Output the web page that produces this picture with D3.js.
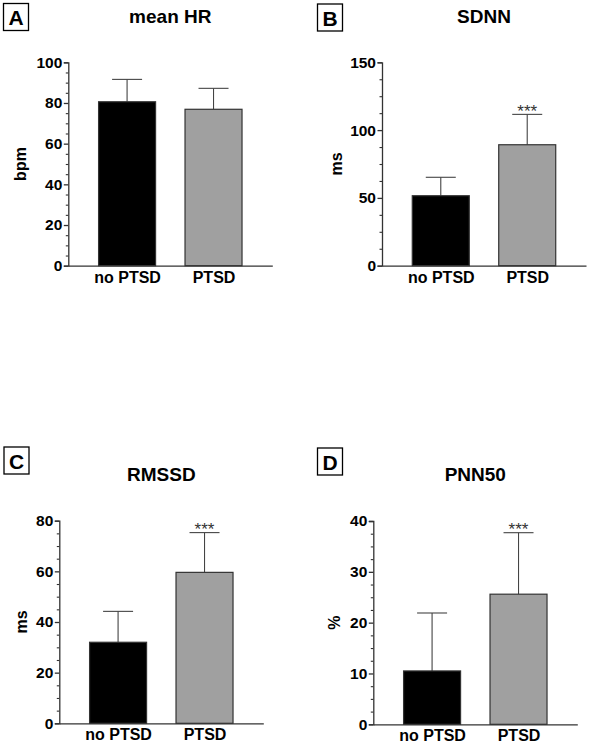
<!DOCTYPE html>
<html>
<head>
<meta charset="utf-8">
<script src="https://cdn.jsdelivr.net/npm/d3@7"></script>
<style>
html,body{margin:0;padding:0;background:#fff;}
svg{display:block;font-family:"Liberation Sans",Arial,sans-serif;}
</style>
</head>
<body>
<svg id="chart" width="592" height="747"></svg>
<script>
// ---- data ----
const categories = ["no PTSD", "PTSD"];
const panelLetters = ["A", "B", "C", "D"];
const panelTitles = ["mean HR", "SDNN", "RMSSD", "PNN50"];
const yLabels = ["bpm", "ms", "ms", "%"];
const meanHR = [80.6, 76.9];
const meanHRErr = [91.6, 87.2];
const sdnn = [51.6, 89.2];
const sdnnErr = [65.2, 111.6];
const rmssd = [32.0, 59.6];
const rmssdErr = [44.2, 75.3];
const pnn50 = [10.5, 25.6];
const pnn50Err = [21.9, 37.7];
const yMax = [100, 150, 80, 40];
const yMajorTicks = [[0,20,40,60,80,100],[0,50,100,150],[0,20,40,60,80],[0,10,20,30,40]];
const yMinorStep = [5, 12.5, 5, 2.5];
const significance = ["", "***", "***", "***"];

const values = [meanHR, sdnn, rmssd, pnn50];
const errs = [meanHRErr, sdnnErr, rmssdErr, pnn50Err];

// ---- layout ----
const layout = [
  {ax: 68.3, top: 62.3, bottom: 265.7, box: [3.5, 3.5], ylabX: 20, titleY: 23},
  {ax: 382,  top: 62.3, bottom: 265.7, box: [317.5, 4], ylabX: 336, titleY: 23},
  {ax: 59.3, top: 520.7, bottom: 723.3, box: [4, 447], ylabX: 21.5, titleY: 481},
  {ax: 373.3, top: 521, bottom: 724.3, box: [317.5, 448], ylabX: 334.5, titleY: 481}
];
const axisWidth = 204;
const barWidth = 57;
const fillColors = ["#000000", "#a0a0a0"];
const ink = "#333333";

const svg = d3.select("#chart");

layout.forEach((L, i) => {
  const g = svg.append("g");
  const x = d3.scalePoint().domain(categories).range([L.ax, L.ax + axisWidth]).padding(0.68);
  const y = d3.scaleLinear().domain([0, yMax[i]]).range([L.bottom, L.top]);

  // letter box
  g.append("rect").attr("x", L.box[0]).attr("y", L.box[1]).attr("width", 25).attr("height", 27)
    .attr("fill", "none").attr("stroke", "#000").attr("stroke-width", 1.3);
  g.append("text").attr("x", L.box[0] + 12.5).attr("y", L.box[1] + 21.5)
    .attr("text-anchor", "middle").attr("font-size", 21).attr("font-weight", "bold")
    .text(panelLetters[i]);

  // title
  g.append("text").attr("x", L.ax + 102).attr("y", L.titleY)
    .attr("text-anchor", "middle").attr("font-size", 19).attr("font-weight", "bold")
    .text(panelTitles[i]);

  // bars
  const d = categories.map((c, j) => ({c, v: values[i][j], e: errs[i][j], j}));
  // error bars (upper only)
  d.forEach(o => {
    const cx = x(o.c);
    g.append("line").attr("x1", cx).attr("x2", cx).attr("y1", y(o.v)).attr("y2", y(o.e))
      .attr("stroke", "#444").attr("stroke-width", 1.1);
    g.append("line").attr("x1", cx - 15).attr("x2", cx + 15).attr("y1", y(o.e)).attr("y2", y(o.e))
      .attr("stroke", "#444").attr("stroke-width", 1.1);
  });
  g.selectAll("rect.bar").data(d).enter().append("rect").attr("class", "bar")
    .attr("x", o => x(o.c) - barWidth / 2).attr("width", barWidth)
    .attr("y", o => y(o.v)).attr("height", o => y(0) - y(o.v))
    .attr("fill", o => fillColors[o.j]).attr("stroke", ink).attr("stroke-width", 1.2);

  // significance
  if (significance[i]) {
    const o = d[1];
    g.append("text").attr("x", x(o.c)).attr("y", y(o.e) + 2.5)
      .attr("text-anchor", "middle").attr("font-size", 17).attr("fill", ink)
      .text(significance[i]);
  }

  // y axis
  const minor = d3.range(0, yMax[i] + 1e-9, yMinorStep[i]).filter(t => !yMajorTicks[i].includes(t));
  const yMinorAxis = d3.axisLeft(y).tickValues(minor).tickSize(2.5).tickFormat("");
  const gm = g.append("g").attr("transform", `translate(${L.ax},0)`).call(yMinorAxis);
  gm.select(".domain").remove();
  gm.selectAll("line").attr("stroke", ink).attr("stroke-width", 1.1);

  const yAxis = d3.axisLeft(y).tickValues(yMajorTicks[i]).tickSize(4.5).tickSizeOuter(4.5).tickPadding(1.5);
  const ga = g.append("g").attr("transform", `translate(${L.ax},0)`).call(yAxis);
  ga.select(".domain").attr("stroke", ink).attr("stroke-width", 1.3);
  ga.selectAll(".tick line").attr("stroke", ink).attr("stroke-width", 1.3);
  ga.selectAll(".tick text").attr("font-size", 15.5).attr("font-weight", "bold").attr("fill", "#000")
    .attr("font-family", "Liberation Sans, Arial, sans-serif");

  // x axis
  const xAxis = d3.axisBottom(x).tickSize(0).tickPadding(5.5);
  const gx = g.append("g").attr("transform", `translate(0,${L.bottom})`).call(xAxis);
  gx.select(".domain").attr("stroke", ink).attr("stroke-width", 1.3);
  gx.selectAll(".tick text").attr("font-size", 16).attr("font-weight", "bold").attr("fill", "#000")
    .attr("font-family", "Liberation Sans, Arial, sans-serif");

  // y label
  g.append("text").attr("transform", `translate(${L.ylabX},${(L.top + L.bottom) / 2}) rotate(-90)`)
    .attr("text-anchor", "middle").attr("dy", "0.35em").attr("font-size", 16).attr("font-weight", "bold")
    .text(yLabels[i]);
});
</script>
</body>
</html>
